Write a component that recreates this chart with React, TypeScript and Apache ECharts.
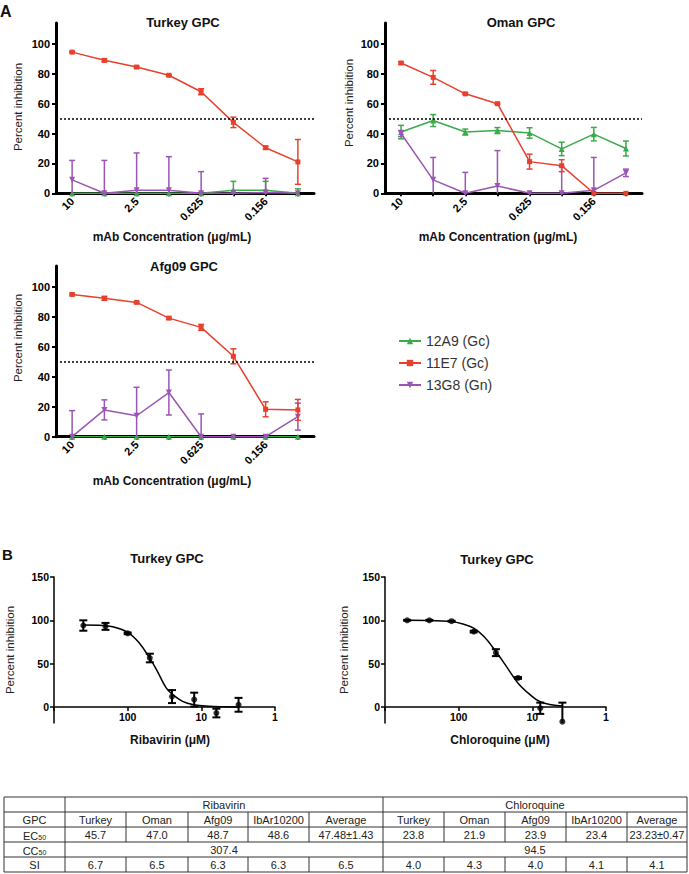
import React, { useEffect, useRef } from "react";
import * as echarts from "echarts";

const FONT = 'Arial, "Liberation Sans", Helvetica, sans-serif';

// ---------- Panel A data ----------
const concLabels = ["10", "5", "2.5", "1.25", "0.625", "0.313", "0.156", "0.078"];
const abNames = ["12A9 (Gc)", "11E7 (Gc)", "13G8 (Gn)"];

const turkey12A9 = [0, 0, 0, 0, 0, 2, 2, 0];
const turkey12A9Err = [0, 0, 0, 0, 0, 6, 6, 3];
const turkey11E7 = [94.5, 89, 84.5, 79, 68, 47.5, 30.5, 21];
const turkey11E7Err = [0.5, 1, 0.7, 0.5, 2, 3.5, 1, 15];
const turkey13G8 = [9, 0, 2, 2, 0, 0, 0.5, 0];
const turkey13G8Err = [13, 22, 25, 22.5, 14.5, 0, 9.5, 0];

const oman12A9 = [41, 48.7, 41, 42, 40.4, 29.7, 39.6, 30];
const oman12A9Err = [4.5, 4, 2, 2, 3.5, 4.5, 4.5, 5];
const oman11E7 = [87.2, 77.6, 66.6, 60, 21.2, 18.5, 0, 0];
const oman11E7Err = [0.8, 4.6, 0.5, 0.5, 5, 4, 0, 0];
const oman13G8 = [40, 9, 0, 4.9, 0, 0, 2, 13.7];
const oman13G8Err = [2, 15, 14, 23.7, 0, 18, 22, 2.5];

const afg12A9 = [0, 0, 0, 0, 0, 0, 0, 0];
const afg12A9Err = [0, 0, 0, 0, 0, 0, 0, 0];
const afg11E7 = [95, 92.4, 89.7, 79.2, 73, 53.7, 18.3, 17.9];
const afg11E7Err = [0.7, 1.3, 0.5, 0.8, 2, 5, 5, 7];
const afg13G8 = [0, 17.9, 14, 29.5, 0, 0, 0, 13.4];
const afg13G8Err = [17.4, 6.7, 19, 15, 15.2, 0, 0, 9];

const panelAYTicks = [0, 20, 40, 60, 80, 100];
const cutoffLine = 50;

// ---------- Panel B data ----------
const ribaConc = [400, 200, 100, 50, 25, 12.5, 6.25, 3.125];
const ribaInh = [94, 93, 85, 56.5, 12, 8.5, -7, 2.5];
const ribaErr = [6, 4, 1, 5, 7.5, 8, 5, 8];
const ribaCurveConc = [400, 250, 160, 100, 70, 50, 40, 30, 25, 18, 12.5, 8, 5, 3.125];
const ribaCurveInh = [94.5, 94.3, 92.5, 86, 74, 56, 42, 22, 15, 6.5, 2.5, 0.8, 0.2, 0];

const chloConc = [500, 250, 125, 62.5, 31.25, 15.63, 7.81, 3.91];
const chloInh = [100, 100, 99, 87, 62.7, 33.5, -1.5, -17];
const chloErr = [0.5, 0.5, 0.5, 1, 4, 1, 6.5, 22];
const chloCurveConc = [500, 250, 125, 90, 62.5, 45, 31.25, 23, 15.63, 10, 7.81, 5.5, 3.91];
const chloCurveInh = [100, 99.8, 98.5, 96, 91, 81, 64, 48, 27.5, 12, 6, 2.5, 1];

const panelBYTicks = [0, 50, 100, 150];
const panelBYMin = -18.5;

// ---------- Table data ----------
const tableGpc = ["Turkey", "Oman", "Afg09", "IbAr10200", "Average"];
const ribaEC50 = ["45.7", "47.0", "48.7", "48.6", "47.48±1.43"];
const chloEC50 = ["23.8", "21.9", "23.9", "23.4", "23.23±0.47"];
const ribaCC50 = "307.4";
const chloCC50 = "94.5";
const ribaSI = ["6.7", "6.5", "6.3", "6.3", "6.5"];
const chloSI = ["4.0", "4.3", "4.0", "4.1", "4.1"];

const COLORS = { green: "#3aab49", red: "#e8402c", purple: "#9a56b4" };

function errRender(capHalf: number, lw: number, floor: number) {
  return (params: any, api: any) => {
    const x = api.value(0);
    const v = api.value(1);
    const e = api.value(2);
    let lo = v - e;
    const hi = v + e;
    const clipped = lo < floor;
    if (clipped) lo = floor;
    const p1 = api.coord([x, lo]);
    const p2 = api.coord([x, hi]);
    const style = { stroke: api.visual("color"), lineWidth: lw };
    const children: any[] = [
      { type: "line", shape: { x1: p1[0], y1: p1[1], x2: p2[0], y2: p2[1] }, style },
      { type: "line", shape: { x1: p2[0] - capHalf, y1: p2[1], x2: p2[0] + capHalf, y2: p2[1] }, style },
    ];
    if (!clipped) {
      children.push({ type: "line", shape: { x1: p1[0] - capHalf, y1: p1[1], x2: p1[0] + capHalf, y2: p1[1] }, style });
    }
    return { type: "group", children };
  };
}

export default function App() {
  const ref = useRef<HTMLDivElement>(null);

  useEffect(() => {
    document.body.style.margin = "0";
    if (!ref.current) return;
    const chart = echarts.init(ref.current, undefined, { renderer: "svg" });

    const gridsA = [
      { left: 56, top: 23, width: 258, height: 170.3 },
      { left: 385, top: 23, width: 257, height: 170.3 },
      { left: 56, top: 266, width: 258, height: 170.7 },
    ];
    const bTop = 577;
    const bHeight = 146;
    const gridsB = [
      { left: 54, top: bTop, width: 221, height: bHeight },
      { left: 385, top: bTop, width: 221, height: bHeight },
    ];
    const grids = [...gridsA, ...gridsB];
    // x axis of panel B crosses the y axis at 0 (y axis extends below zero)
    const zeroOffset = -(bHeight * (0 - panelBYMin)) / (150 - panelBYMin);

    const xAxes: any[] = [];
    const yAxes: any[] = [];
    [0, 1, 2].forEach((g) => {
      xAxes.push({
        gridIndex: g,
        type: "category",
        data: concLabels,
        boundaryGap: true,
        axisLine: { show: true, onZero: false, lineStyle: { color: "#000", width: 3 } },
        axisTick: { show: true, alignWithLabel: true, interval: 0, length: 3, lineStyle: { color: "#000", width: 2 } },
        axisLabel: { interval: 1, rotate: 45, fontSize: 11, fontWeight: "bold", color: "#000", margin: 6, fontFamily: FONT },
        splitLine: { show: false },
      });
      yAxes.push({
        gridIndex: g,
        type: "value",
        min: 0,
        max: 114,
        axisLine: { show: true, onZero: false, lineStyle: { color: "#000", width: 3 } },
        axisTick: { show: true, length: 4, customValues: panelAYTicks, lineStyle: { color: "#000", width: 2 } },
        axisLabel: { customValues: panelAYTicks, fontSize: 11, fontWeight: "bold", color: "#000", margin: 6, fontFamily: FONT },
        splitLine: { show: false },
      });
    });
    [3, 4].forEach((g) => {
      xAxes.push({
        gridIndex: g,
        type: "log",
        logBase: 10,
        min: 1,
        max: 1000,
        inverse: true,
        offset: zeroOffset,
        axisLine: { show: true, onZero: false, lineStyle: { color: "#000", width: 1.5 } },
        axisTick: { show: true, length: 4, lineStyle: { color: "#000", width: 1.5 } },
        axisLabel: {
          fontSize: 10.5,
          fontWeight: "bold",
          color: "#000",
          margin: 5,
          fontFamily: FONT,
          formatter: (v: number) => (Math.round(v) >= 1000 ? "" : String(Math.round(v))),
        },
        splitLine: { show: false },
        minorTick: { show: false },
      });
      yAxes.push({
        gridIndex: g,
        type: "value",
        min: panelBYMin,
        max: 150,
        axisLine: { show: true, onZero: false, lineStyle: { color: "#000", width: 1.5 } },
        axisTick: { show: true, length: 4, customValues: panelBYTicks, lineStyle: { color: "#000", width: 1.5 } },
        axisLabel: { customValues: panelBYTicks, fontSize: 10.5, fontWeight: "bold", color: "#000", margin: 5, fontFamily: FONT },
        splitLine: { show: false },
      });
    });

    const panels = [
      { vals: [turkey12A9, turkey11E7, turkey13G8], errs: [turkey12A9Err, turkey11E7Err, turkey13G8Err] },
      { vals: [oman12A9, oman11E7, oman13G8], errs: [oman12A9Err, oman11E7Err, oman13G8Err] },
      { vals: [afg12A9, afg11E7, afg13G8], errs: [afg12A9Err, afg11E7Err, afg13G8Err] },
    ];
    const abColor = [COLORS.green, COLORS.red, COLORS.purple];
    const abSymbol = ["triangle", "rect", "triangle"];
    const abRotate = [0, 0, 180];
    const abSize = [6, 5, 6];
    const drawOrder = [0, 2, 1];

    const series: any[] = [];
    panels.forEach((p, g) => {
      drawOrder.forEach((k, oi) => {
        series.push({
          type: "custom",
          name: abNames[k] + " err",
          xAxisIndex: g,
          yAxisIndex: g,
          z: 2 + oi,
          itemStyle: { color: abColor[k] },
          renderItem: errRender(3, 1.5, 0),
          encode: { x: 0, y: 1 },
          data: p.vals[k].map((v, i) => [i, v, p.errs[k][i]]).filter((d) => d[2] > 0),
          silent: true,
        });
        const s: any = {
          type: "line",
          name: abNames[k],
          xAxisIndex: g,
          yAxisIndex: g,
          z: 2 + oi,
          data: p.vals[k],
          symbol: abSymbol[k],
          symbolRotate: abRotate[k],
          symbolSize: abSize[k],
          showAllSymbol: true,
          itemStyle: { color: abColor[k] },
          lineStyle: { color: abColor[k], width: 1.5 },
        };
        if (k === 1) {
          s.markLine = {
            silent: true,
            symbol: ["none", "none"],
            label: { show: false },
            lineStyle: { type: [2, 2], color: "#000", width: 1.5 },
            data: [{ yAxis: cutoffLine }],
          };
        }
        series.push(s);
      });
    });

    const bSets = [
      { conc: ribaConc, inh: ribaInh, err: ribaErr, cc: ribaCurveConc, ci: ribaCurveInh },
      { conc: chloConc, inh: chloInh, err: chloErr, cc: chloCurveConc, ci: chloCurveInh },
    ];
    bSets.forEach((b, j) => {
      const g = 3 + j;
      series.push({
        type: "line",
        name: "fit" + j,
        xAxisIndex: g,
        yAxisIndex: g,
        data: b.cc.map((c, i) => [c, b.ci[i]]),
        smooth: 0.4,
        showSymbol: false,
        lineStyle: { color: "#000", width: 1.5 },
        itemStyle: { color: "#000" },
        silent: true,
      });
      series.push({
        type: "custom",
        name: "err" + j,
        xAxisIndex: g,
        yAxisIndex: g,
        itemStyle: { color: "#000" },
        renderItem: errRender(4, 2, panelBYMin),
        encode: { x: 0, y: 1 },
        data: b.conc.map((c, i) => [c, b.inh[i], b.err[i]]),
        silent: true,
      });
      series.push({
        type: "scatter",
        name: "pts" + j,
        xAxisIndex: g,
        yAxisIndex: g,
        data: b.conc.map((c, i) => [c, b.inh[i]]),
        symbol: "circle",
        symbolSize: 6,
        itemStyle: { color: "#000" },
        silent: true,
      });
    });

    const txt = (x: number, y: number, text: string, size: number, bold: boolean, extra: any = {}) => ({
      type: "text",
      x,
      y,
      rotation: extra.rotation || 0,
      style: {
        text,
        fontSize: size,
        fontWeight: bold ? "bold" : "normal",
        fontFamily: FONT,
        fill: extra.fill || "#111",
        align: extra.align || "center",
        verticalAlign: "middle",
      },
      silent: true,
    });

    const graphics: any[] = [
      txt(0, 11, "A", 16, true, { align: "left" }),
      txt(183, 22, "Turkey GPC", 13, true),
      txt(521, 22, "Oman GPC", 13, true),
      txt(184, 266, "Afg09 GPC", 13, true),
      txt(18, 107, "Percent inhibition", 11.5, false, { rotation: Math.PI / 2, fill: "#222" }),
      txt(349, 103, "Percent inhibition", 11.5, false, { rotation: Math.PI / 2, fill: "#222" }),
      txt(18, 338, "Percent inhibition", 11.5, false, { rotation: Math.PI / 2, fill: "#222" }),
      txt(172, 237, "mAb Concentration (μg/mL)", 12, true),
      txt(498, 237, "mAb Concentration (μg/mL)", 12, true),
      txt(172, 481, "mAb Concentration (μg/mL)", 12, true),
      txt(2, 554, "B", 15, true, { align: "left" }),
      txt(167, 558, "Turkey GPC", 13, true),
      txt(497, 559, "Turkey GPC", 13, true),
      txt(10, 650, "Percent inhibition", 11.5, false, { rotation: Math.PI / 2, fill: "#222" }),
      txt(344, 650, "Percent inhibition", 11.5, false, { rotation: Math.PI / 2, fill: "#222" }),
      txt(170, 740, "Ribavirin (μM)", 12, true),
      txt(500, 740, "Chloroquine (μM)", 12, true),
    ];

    // ---------- Table ----------
    const colX = [4, 65, 126, 188, 248, 309, 383, 444, 505, 566, 627, 687];
    const rowY = [797, 812, 827, 842, 857, 872];
    const border = { stroke: "#333", lineWidth: 1 };
    const ln = (x1: number, y1: number, x2: number, y2: number) => ({
      type: "line",
      shape: { x1, y1, x2, y2 },
      style: border,
      silent: true,
    });
    rowY.forEach((y) => graphics.push(ln(colX[0], y, colX[11], y)));
    [0, 1, 6, 11].forEach((c) => graphics.push(ln(colX[c], rowY[0], colX[c], rowY[5])));
    [2, 3, 4, 5, 7, 8, 9, 10].forEach((c) => {
      graphics.push(ln(colX[c], rowY[1], colX[c], rowY[3]));
      graphics.push(ln(colX[c], rowY[4], colX[c], rowY[5]));
    });
    const rc = (r: number) => (rowY[r] + rowY[r + 1]) / 2 + 0.5;
    const cc = (c: number) => (colX[c] + colX[c + 1]) / 2;
    const cell = (x: number, y: number, t: string) => txt(x, y, t, 11, false, { fill: "#222" });
    graphics.push(cell((colX[1] + colX[6]) / 2, rc(0), "Ribavirin"));
    graphics.push(cell((colX[6] + colX[11]) / 2, rc(0), "Chloroquine"));
    graphics.push(cell(cc(0), rc(1), "GPC"));
    graphics.push(cell(cc(0), rc(4), "SI"));
    const sub = (y: number, main: string) => ({
      type: "text",
      x: cc(0),
      y,
      silent: true,
      style: {
        text: `{a|${main}}{b|50}`,
        align: "center",
        verticalAlign: "middle",
        rich: {
          a: { fontSize: 11, fontFamily: FONT, fill: "#222", verticalAlign: "bottom", lineHeight: 12 },
          b: { fontSize: 7, fontFamily: FONT, fill: "#222", verticalAlign: "bottom", lineHeight: 10 },
        },
      },
    });
    graphics.push(sub(rc(2), "EC"));
    graphics.push(sub(rc(3), "CC"));
    tableGpc.forEach((t, i) => {
      graphics.push(cell(cc(1 + i), rc(1), t));
      graphics.push(cell(cc(6 + i), rc(1), t));
    });
    ribaEC50.forEach((t, i) => graphics.push(cell(cc(1 + i), rc(2), t)));
    chloEC50.forEach((t, i) => graphics.push(cell(cc(6 + i), rc(2), t)));
    graphics.push(cell((colX[1] + colX[6]) / 2, rc(3), ribaCC50));
    graphics.push(cell((colX[6] + colX[11]) / 2, rc(3), chloCC50));
    ribaSI.forEach((t, i) => graphics.push(cell(cc(1 + i), rc(4), t)));
    chloSI.forEach((t, i) => graphics.push(cell(cc(6 + i), rc(4), t)));

    chart.setOption({
      animation: false,
      backgroundColor: "#fff",
      grid: grids.map((g) => ({ ...g, containLabel: false })),
      xAxis: xAxes,
      yAxis: yAxes,
      legend: {
        data: abNames,
        orient: "vertical",
        left: 393,
        top: 329,
        itemGap: 8,
        itemWidth: 22,
        itemHeight: 8,
        selectedMode: false,
        textStyle: { fontSize: 14, color: "#333", fontFamily: FONT },
      },
      series,
      graphic: { elements: graphics },
    });

    return () => chart.dispose();
  }, []);

  return <div ref={ref} style={{ width: 689, height: 874 }} />;
}
